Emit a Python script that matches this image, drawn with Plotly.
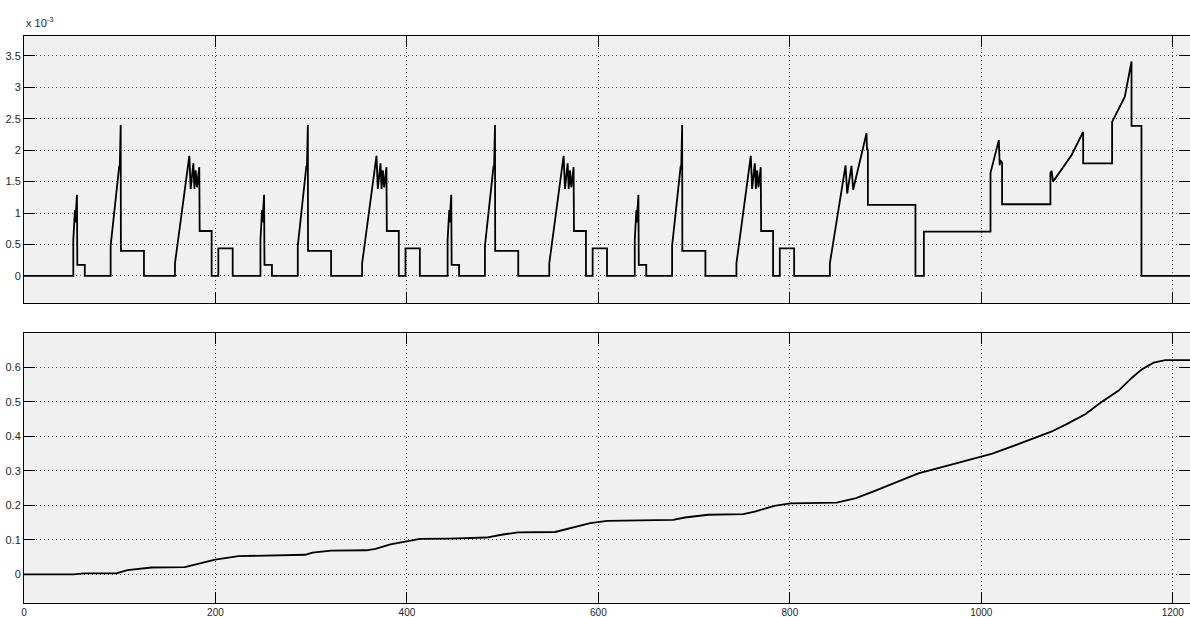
import plotly.graph_objects as go

# ---------------- data ----------------
# Top series (values in units of 1e-3)
top_x = [0, 51.5, 51.5, 53.2, 53.6, 55.3, 55.7, 63.5, 63.5,
         90.5, 90.5, 99.5, 100.0, 101.0, 101.2, 125.3, 125.3,
         157.7, 157.7, 172.7, 174.1, 176.9, 178.0, 179.3, 180.7, 183.1, 183.5, 196.0, 196.0, 203.0, 203.0, 218.0, 218.0,
         247.0, 247.0, 248.7, 249.1, 250.8, 251.2, 259.0, 259.0,
         286.0, 286.0, 295.0, 295.5, 296.5, 296.7, 320.8, 320.8,
         353.2, 353.2, 368.2, 369.6, 372.4, 373.5, 374.8, 376.2, 378.6, 379.0, 391.5, 391.5, 398.5, 398.5, 413.5, 413.5,
         442.5, 442.5, 444.2, 444.6, 446.3, 446.7, 454.5, 454.5,
         481.5, 481.5, 490.5, 491.0, 492.0, 492.2, 516.3, 516.3,
         548.7, 548.7, 563.7, 565.1, 567.9, 569.0, 570.3, 571.7, 574.1, 574.5, 587.0, 587.0, 594.0, 594.0, 609.0, 609.0,
         638.0, 638.0, 639.7, 640.1, 641.8, 642.2, 650.0, 650.0,
         677.0, 677.0, 686.0, 686.5, 687.5, 687.7, 711.8, 711.8,
         744.2, 744.2, 759.2, 760.6, 763.4, 764.5, 765.8, 767.2, 769.6, 770.0, 782.5, 782.5, 789.5, 789.5, 804.5, 804.5,
         841.8, 841.8, 858.2, 859.9, 864.4, 866.1, 880.1, 880.6, 881.5, 881.5,
         931.2, 931.2, 940.0, 940.0, 1009.6, 1009.6, 1018.3, 1019.2, 1019.8, 1021.7, 1021.7,
         1072.2, 1072.2, 1073.5, 1074.9, 1094.2, 1106.4, 1106.4, 1136.6, 1136.6, 1149.9, 1156.9, 1156.9,
         1167.3, 1167.3, 1218.0]
top_y = [0, 0, 0.57, 1.05, 0.85, 1.29, 0.175, 0.175, 0,
         0, 0.48, 1.75, 1.70, 2.40, 0.40, 0.40, 0,
         0, 0.20, 1.91, 1.385, 1.79, 1.385, 1.68, 1.41, 1.73, 0.715, 0.715, 0, 0, 0.44, 0.44, 0,
         0, 0.57, 1.05, 0.85, 1.29, 0.175, 0.175, 0,
         0, 0.48, 1.75, 1.70, 2.40, 0.40, 0.40, 0,
         0, 0.20, 1.91, 1.385, 1.79, 1.385, 1.68, 1.41, 1.73, 0.715, 0.715, 0, 0, 0.44, 0.44, 0,
         0, 0.57, 1.05, 0.85, 1.29, 0.175, 0.175, 0,
         0, 0.48, 1.75, 1.70, 2.40, 0.40, 0.40, 0,
         0, 0.20, 1.91, 1.385, 1.79, 1.385, 1.68, 1.41, 1.73, 0.715, 0.715, 0, 0, 0.44, 0.44, 0,
         0, 0.57, 1.05, 0.85, 1.29, 0.175, 0.175, 0,
         0, 0.48, 1.75, 1.70, 2.40, 0.40, 0.40, 0,
         0, 0.20, 1.91, 1.385, 1.79, 1.385, 1.68, 1.41, 1.73, 0.715, 0.715, 0, 0, 0.44, 0.44, 0,
         0, 0.20, 1.76, 1.31, 1.75, 1.37, 2.27, 2.00, 2.02, 1.13,
         1.13, 0, 0, 0.705, 0.705, 1.64, 2.16, 1.76, 1.84, 1.80, 1.14,
         1.14, 1.64, 1.67, 1.50, 1.92, 2.29, 1.79, 1.79, 2.45, 2.85, 3.41, 2.385,
         2.385, 0, 0]

# Bottom series
bot_x = [0, 52, 63, 96.4, 108, 133.2, 168, 185.4, 199.7, 224, 258.9, 293.7, 301.4, 320.7,
         357.5, 367.2, 382.7, 400, 413.6, 444.5, 483.2, 498.7, 516.1, 554.8, 568.3, 591.5,
         609.1, 678.2, 690.3, 714.8, 751.3, 763.4, 783.9, 800.5, 848.9, 869.2, 889.5, 934.2,
         966.7, 1000.5, 1011.5, 1039.9, 1072.4, 1088.7, 1109, 1125.2, 1143.5, 1157.7, 1167.9,
         1180, 1192.3, 1218]
bot_y = [0, 0, 0.003, 0.003, 0.0126, 0.020, 0.021, 0.034, 0.043, 0.053, 0.055, 0.057, 0.063, 0.069,
         0.070, 0.074, 0.087, 0.096, 0.103, 0.104, 0.107, 0.115, 0.122, 0.123, 0.132, 0.149,
         0.155, 0.158, 0.165, 0.173, 0.175, 0.182, 0.199, 0.206, 0.208, 0.221, 0.243, 0.293,
         0.317, 0.341, 0.350, 0.379, 0.413, 0.435, 0.465, 0.499, 0.533, 0.571, 0.595,
         0.614, 0.621, 0.621]

x_ticks = [0, 200, 400, 600, 800, 1000, 1200]
top_ticks = [0, 0.5, 1, 1.5, 2, 2.5, 3, 3.5]
top_tick_labels = ["0", "0.5", "1", "1.5", "2", "2.5", "3", "3.5"]
bot_ticks = [0, 0.1, 0.2, 0.3, 0.4, 0.5, 0.6]
bot_tick_labels = ["0", "0.1", "0.2", "0.3", "0.4", "0.5", "0.6"]
exponent_label = "x 10<sup>-3</sup>"

# ---------------- figure ----------------
W, H = 1190, 617
fig = go.Figure()
fig.add_trace(go.Scatter(x=top_x, y=top_y, mode="lines",
                         line=dict(color="black", width=1.8), xaxis="x", yaxis="y",
                         showlegend=False, hoverinfo="skip"))
fig.add_trace(go.Scatter(x=bot_x, y=bot_y, mode="lines",
                         line=dict(color="black", width=1.8), xaxis="x2", yaxis="y2",
                         showlegend=False, hoverinfo="skip"))

font = dict(family="Liberation Sans, Arial, sans-serif", size=11, color="#262626")
xfont = dict(family="Liberation Sans, Arial, sans-serif", size=10, color="#262626")

common = dict(showline=True, linecolor="black", linewidth=1, mirror="ticks",
              ticks="inside", ticklen=11, tickcolor="black", tickwidth=1,
              showgrid=True, gridcolor="#555555", gridwidth=1, griddash="1px,3px",
              zeroline=False, automargin=False)

top_dom = [1 - 302.7 / H, 1 - 35.7 / H]
bot_dom = [1 - 602.7 / H, 1 - 333.3 / H]

fig.update_layout(
    width=W, height=H,
    margin=dict(l=24, r=0, t=0, b=0),
    paper_bgcolor="white", plot_bgcolor="#f0f0f0",
    font=font,
    xaxis=dict(domain=[0, 1], range=[0, 1218], tickvals=x_ticks, showticklabels=False,
               anchor="y", tickfont=xfont, **common),
    yaxis=dict(domain=top_dom, range=[-0.425, 3.82], tickvals=top_ticks,
               ticktext=top_tick_labels, anchor="x", tickfont=font, **common),
    xaxis2=dict(domain=[0, 1], range=[0, 1218], tickvals=x_ticks,
                ticktext=[str(v) for v in x_ticks], anchor="y2", tickfont=xfont, **common),
    yaxis2=dict(domain=bot_dom, range=[-0.082, 0.699], tickvals=bot_ticks,
                ticktext=bot_tick_labels, anchor="x2", tickfont=font, **common),
    annotations=[dict(text=exponent_label, xref="paper", yref="paper",
                      x=0, y=1 - 22 / H, xanchor="left", yanchor="middle",
                      showarrow=False, font=dict(family=font["family"], size=11, color="#262626"))],
)

fig.write_html("out.html", config={"displayModeBar": False},
               post_script="document.body.style.margin='0';document.body.style.overflow='hidden';")
